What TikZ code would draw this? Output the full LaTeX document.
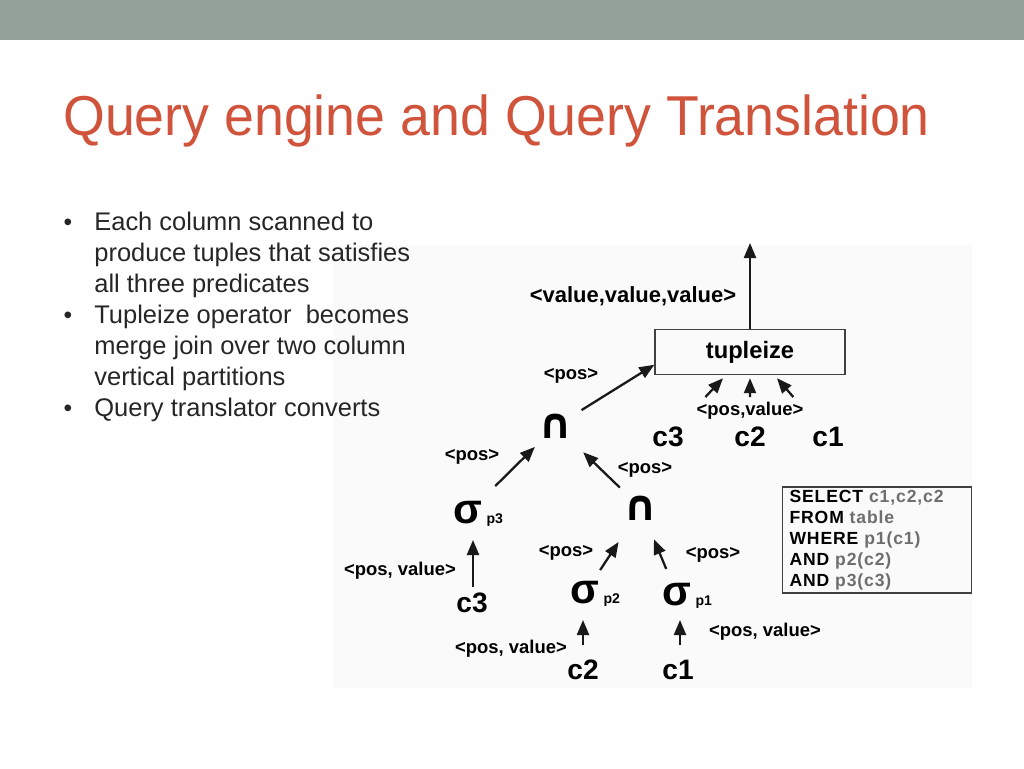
\documentclass[tikz,border=0pt]{standalone}
\usepackage{fontspec}
\setmainfont{Liberation Sans}
\newfontfamily\titlefont[FakeStretch=0.955]{Liberation Sans}
\newfontfamily\sqlfont[LetterSpace=5]{Liberation Sans}
\newfontfamily\symfont{DejaVu Sans}
\usepackage{xcolor}
\usepackage{tikz}
\usetikzlibrary{positioning,calc,arrows.meta}
\definecolor{barcol}{RGB}{146,160,153}
\definecolor{titlecol}{RGB}{208,83,60}
\definecolor{bodycol}{RGB}{38,38,38}
\definecolor{argcol}{RGB}{110,110,110}
\newcommand{\sqlkw}[1]{\textcolor{black}{#1}}
\newcommand{\sqlarg}[1]{\textcolor{argcol}{#1}}

\begin{document}
\begin{tikzpicture}[
    x=0.02cm, y=-0.02cm,
    slidetitle/.style={anchor=base west, inner sep=0pt, text=titlecol, font=\titlefont\fontsize{32}{36}\selectfont},
    bullettext/.style={anchor=base west, inner sep=0pt, align=left, text=bodycol, font=\fontsize{14.5}{17.6}\selectfont},
    bulletdot/.style={anchor=base, inner sep=0pt, text=bodycol, font=\fontsize{14}{17.6}\selectfont},
    opbox/.style={rectangle, draw=black!75, line width=0.8pt, minimum width=3.8cm, minimum height=0.9cm, font=\bfseries\fontsize{13.5}{15}\selectfont},
    lbl/.style={inner sep=1pt, font=\bfseries\fontsize{10.5}{12}\selectfont},
    biglbl/.style={inner sep=1pt, font=\bfseries\fontsize{12.5}{14}\selectfont},
    colname/.style={inner sep=1pt, font=\bfseries\fontsize{16}{18}\selectfont},
    sigma/.style={inner sep=1pt, font=\bfseries\fontsize{24}{26}\selectfont},
    subscr/.style={inner sep=0pt, font=\bfseries\fontsize{8}{9}\selectfont},
    capop/.style={inner sep=1pt, font=\symfont\bfseries\fontsize{24}{26}\selectfont},
    sqlbox/.style={rectangle, draw=black!75, line width=0.8pt, minimum width=3.7cm, minimum height=2.12cm, text width=3.5cm, align=left, inner xsep=4pt, inner ysep=1pt, font=\sqlfont\bfseries\fontsize{10}{11.95}\selectfont},
    arr/.style={-{Triangle[length=0.3cm,width=0.24cm]}, line width=1.3pt, draw=black!90},
]
\useasboundingbox (0,0) rectangle (1024,768);
\fill[barcol] (0,0) rectangle (1024,40);
\fill[black!2] (333,245) rectangle (972,688);

\node[slidetitle] (title) at (63,135) {Query engine and Query Translation};

% bullet list on the left (base = last line of each item)
\node[bulletdot] (dot1) at (68,230) {•};
\node[bulletdot] (dot2) at (68,323) {•};
\node[bulletdot] (dot3) at (68,416) {•};
\node[bullettext] (item1) at (94,292) {Each column scanned to\\produce tuples that satisfies\\all three predicates};
\node[bullettext] (item2) at (94,385) {Tupleize operator\ \ becomes\\merge join over two column\\vertical partitions};
\node[bullettext] (item3) at (94,416) {Query translator converts};

% operator tree
\node[opbox] (tup) at (750,352) {tupleize};
\coordinate (out) at (750,243);
\node[biglbl] (vvv) at (633,296) {<value,value,value>};

\node[capop] (cap1) at (556,426) {∩};
\node[capop] (cap2) at (641,508) {∩};

\node[colname] (c3top) at (668,437) {c3};
\node[colname] (c2top) at (750,437) {c2};
\node[colname] (c1top) at (828,437) {c1};
\node[lbl] (pv0) at (750,411) {<pos,value>};

\node[sigma] (sig3) at (468,513) {σ};
\node[sigma] (sig2) at (585,593) {σ};
\node[sigma] (sig1) at (677,595) {σ};
\node[subscr, anchor=south west] (sub3) at ([xshift=1pt]sig3.south east) {p3};
\node[subscr, anchor=south west] (sub2) at ([xshift=1pt]sig2.south east) {p2};
\node[subscr, anchor=south west] (sub1) at ([xshift=1pt]sig1.south east) {p1};

\node[colname] (c3) at (472,603) {c3};
\node[colname] (c2) at (583,670) {c2};
\node[colname] (c1) at (678,670) {c1};

\node[lbl] (pos1) at (571,376) {<pos>};
\node[lbl] (pos2) at (472,457) {<pos>};
\node[lbl] (pos3) at (645,470) {<pos>};
\node[lbl] (pos4) at (566,553) {<pos>};
\node[lbl] (pos5) at (713,555) {<pos>};
\node[lbl] (pv3) at (400,571) {<pos, value>};
\node[lbl] (pv2) at (511,649) {<pos, value>};
\node[lbl] (pv1) at (765,632) {<pos, value>};

\node[sqlbox] (sql) at (877,540) {\sqlkw{SELECT} \sqlarg{c1,c2,c2}\\\sqlkw{FROM} \sqlarg{table}\\\sqlkw{WHERE} \sqlarg{p1(c1)}\\\sqlkw{AND} \sqlarg{p2(c2)}\\\sqlkw{AND} \sqlarg{p3(c3)}};

% connectors
\draw[arr] (tup.north) -- (out);
\coordinate (tupin) at ($(tup.west)!0.55!(tup.south west)$);
\draw[arr] ($(cap1)!0.26!(tupin)$) -- (tupin);
\draw[arr] ($(c3top)!0.68!($(tup.south)+(-27,3)$)$) -- ($(tup.south)+(-27,3)$);
\draw[arr] ($(c2top)!0.68!($(tup.south)+(0,3)$)$) -- ($(tup.south)+(0,3)$);
\draw[arr] ($(c1top)!0.68!($(tup.south)+(27,3)$)$) -- ($(tup.south)+(27,3)$);
\draw[arr] ($(sig3)!0.31!(cap1)$) -- ($(sig3)!0.76!(cap1)$);
\draw[arr] ($(cap2)!0.25!(cap1)$) -- ($(cap2)!0.68!(cap1)$);
\draw[arr] ($(sig2)!0.27!(cap2)$) -- ($(sig2)!0.6!(cap2)$);
\draw[arr] ($(sig1)!0.3!(cap2)$) -- ($(sig1)!0.64!(cap2)$);
\draw[arr] ($(c3)+(1,-16)$) -- ($(c3)+(1,-63)$);
\draw[arr] ($(c2)+(0,-25)$) -- ($(c2)+(0,-50)$);
\draw[arr] ($(c1)+(2,-25)$) -- ($(c1)+(2,-50)$);
\end{tikzpicture}
\end{document}
